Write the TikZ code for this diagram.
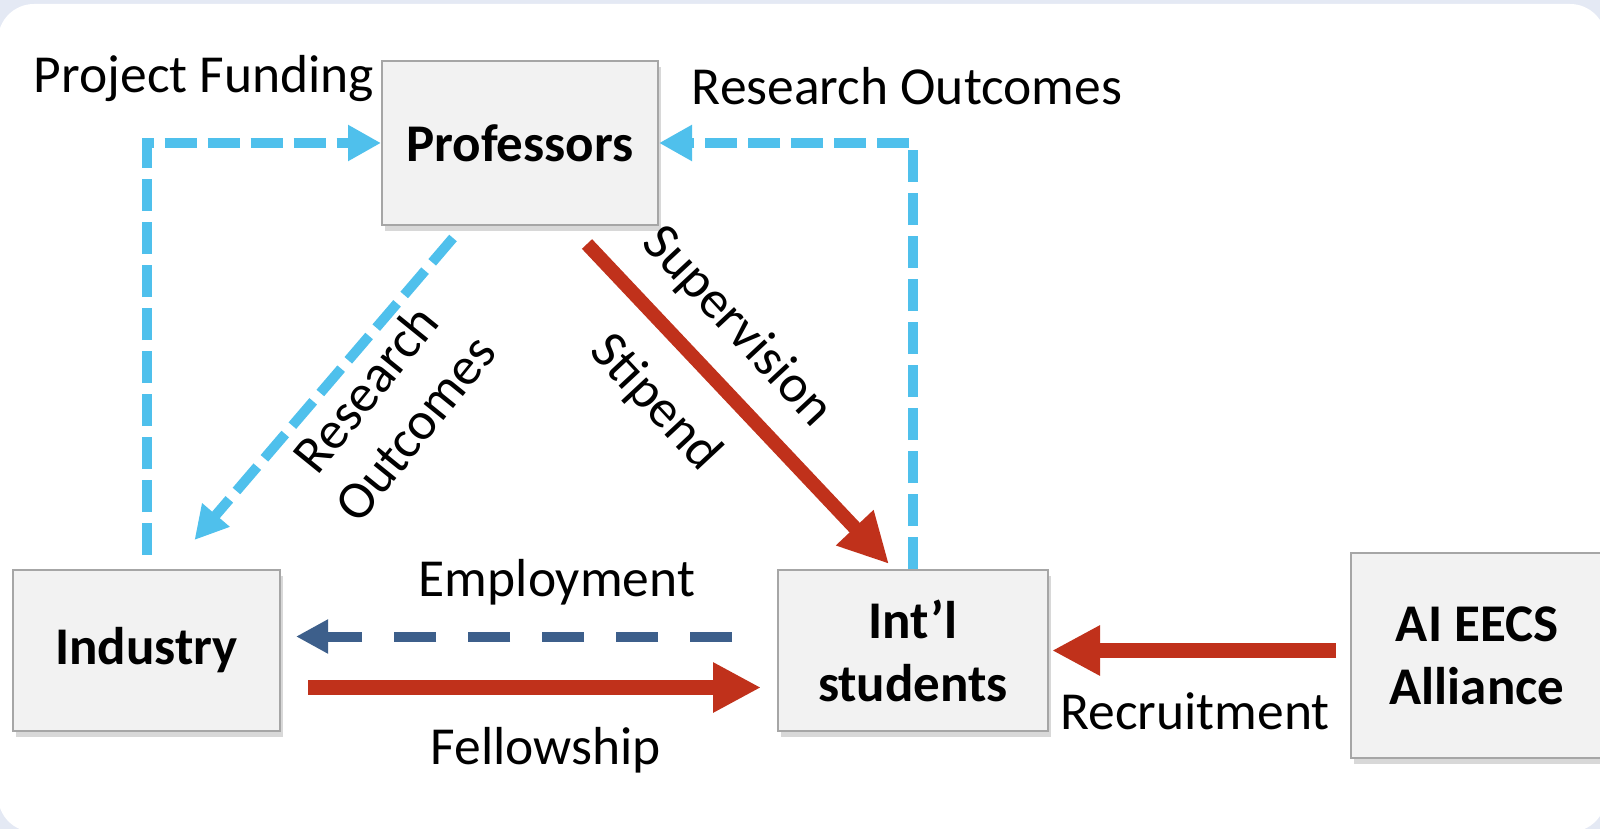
\documentclass[tikz,border=0pt]{standalone}
\usepackage{fontspec}
\setmainfont{Carlito}
\usetikzlibrary{arrows.meta,calc,shadows}
\definecolor{lblue}{HTML}{4FC0EC}
\definecolor{dred}{HTML}{C0311B}
\definecolor{dblue}{HTML}{3D5F8B}
\definecolor{boxfill}{HTML}{F2F2F2}
\definecolor{boxline}{HTML}{A6A6A6}
\definecolor{bgc}{HTML}{E4E9F4}
\begin{document}
\begin{tikzpicture}[x=1pt,y=-1pt,
  box/.style={draw=boxline, line width=2pt, fill=boxfill, inner sep=0pt,
    font=\fontsize{53}{63}\selectfont\bfseries, align=center,
    drop shadow={shadow xshift=3pt, shadow yshift=-6pt, opacity=0.3}},
  lbl/.style={font=\fontsize{53.5}{63}\selectfont, inner sep=0pt, align=center},
  bluedash/.style={draw=lblue, line width=10pt, dash pattern=on 32pt off 11pt,
    -{Triangle[length=33pt,width=34pt]}},
  redarrow/.style={draw=dred, line width=15pt, -{Triangle[length=48pt,width=47pt]}},
  navydash/.style={draw=dblue, line width=10pt, dash pattern=on 42pt off 32pt,
    -{Triangle[length=32pt,width=32pt]}},
]
\useasboundingbox (0,0) rectangle (1600,829);
\fill[bgc] (0,0) rectangle (1600,829);
\fill[white, rounded corners=36pt] (-2,4) rectangle (1606,832);

\node[box, minimum width=276pt, minimum height=164pt] (prof) at (520,143) {Professors};
\node[box, minimum width=267pt, minimum height=161pt] (ind) at (146.5,650.5) {Industry};
\node[box, minimum width=270pt, minimum height=161pt] (stu) at (913,650.5) {Int’l\\students};
\node[box, minimum width=252pt, minimum height=205pt] (eecs) at (1477,655.5) {AI EECS\\Alliance};

\draw[bluedash, shorten <=14pt] (ind.north) |- (prof.west);
\draw[bluedash] (stu.north) |- (prof.east);
\draw[bluedash] ($(prof.south west)+(72,12)$) -- ($(ind.north)+(48,-29)$);
\draw[redarrow, line width=14pt, -{Triangle[length=50pt,width=48pt]}] ($(prof.south west)+(206,18)$) -- ($(stu.north west)+(112,-5)$);
\draw[navydash] ($(stu.west)+(-45,-14)$) -- ($(ind.east)+(15,-14)$);
\draw[redarrow] ($(ind.east)+(27,37)$) -- ($(stu.west)+(-16,37)$);
\draw[redarrow] ($(eecs.west)+(-14,-5)$) -- ($(stu.east)+(3,0)$);

\node[lbl] (lpf) at (204,79) {Project Funding};
\node[lbl] (lro) at (907,86) {Research Outcomes};
\node[lbl, rotate=51] (lro2) at (390,408) {Research\\Outcomes};
\node[lbl, rotate=-47] (lsup) at (737,327) {Supervision};
\node[lbl, rotate=-47] (lsti) at (655,403) {Stipend};
\node[lbl] (lemp) at (557,582) {Employment};
\node[lbl] (lfel) at (546,750) {Fellowship};
\node[lbl] (lrec) at (1195,711) {Recruitment};
\end{tikzpicture}
\end{document}
